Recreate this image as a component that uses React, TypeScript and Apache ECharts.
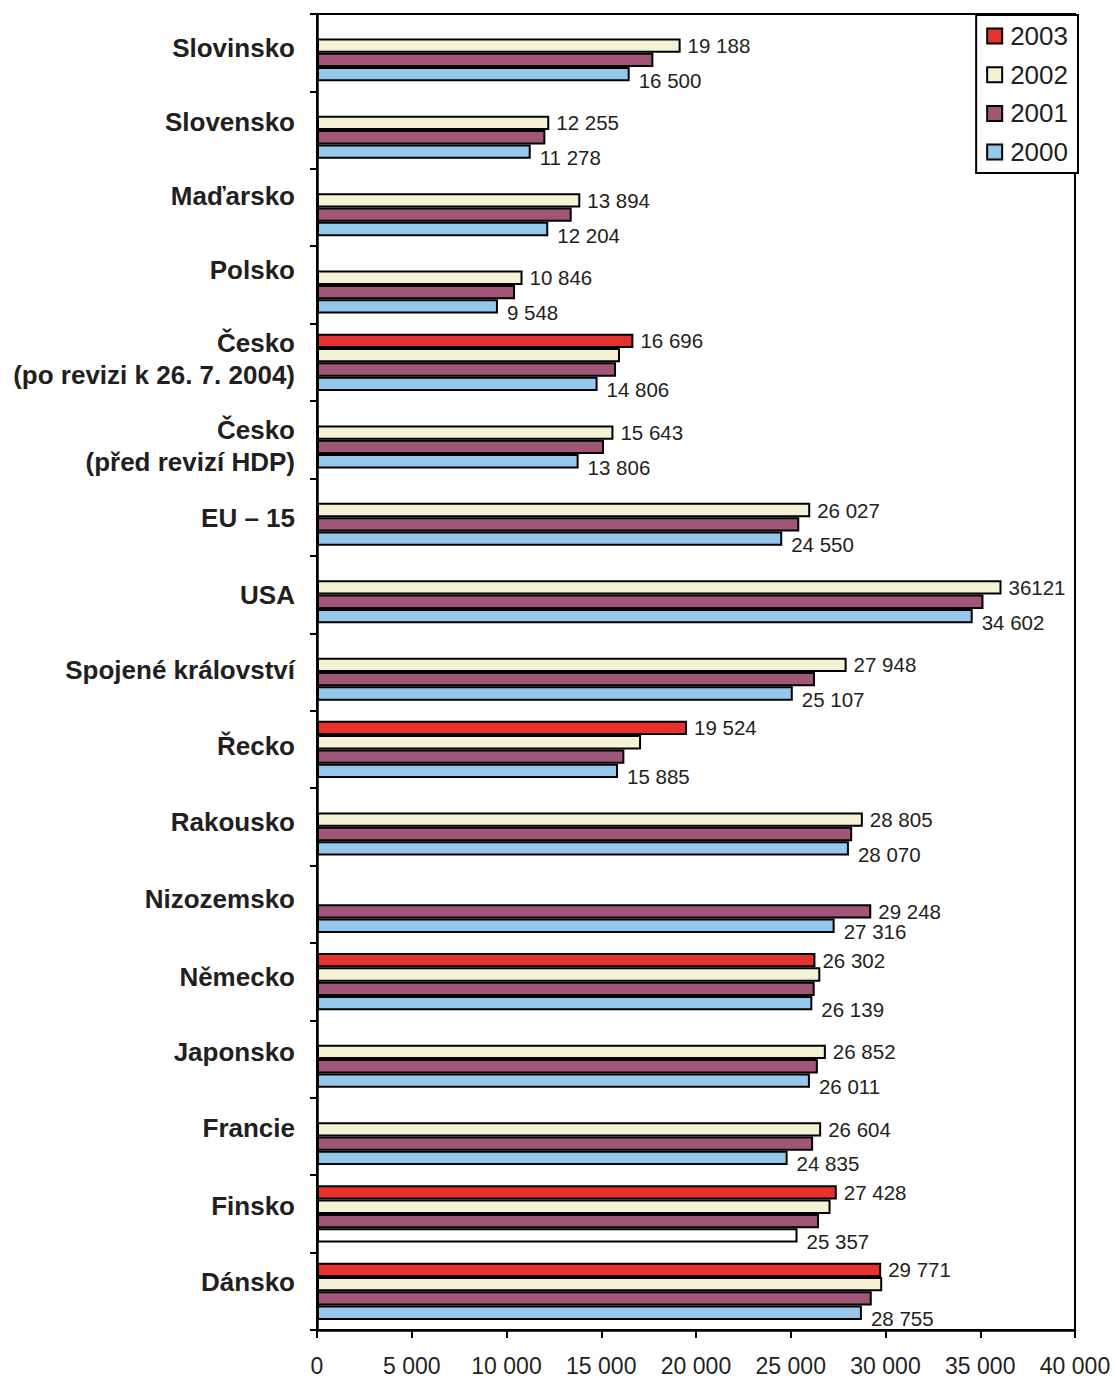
import React, { useEffect, useRef } from "react";
import * as echarts from "echarts";

// HDP na obyvatele (PPS) v letech 2000–2003
const categories = [
  "Slovinsko",
  "Slovensko",
  "Maďarsko",
  "Polsko",
  "Česko\n(po revizi k 26. 7. 2004)",
  "Česko\n(před revizí HDP)",
  "EU – 15",
  "USA",
  "Spojené království",
  "Řecko",
  "Rakousko",
  "Nizozemsko",
  "Německo",
  "Japonsko",
  "Francie",
  "Finsko",
  "Dánsko",
];

const years = ["2003", "2002", "2001", "2000"];

const v2003 = [null, null, null, null, 16696, null, null, null, null, 19524, null, null, 26302, null, null, 27428, 29771];
const v2002 = [19188, 12255, 13894, 10846, 15990, 15643, 26027, 36121, 27948, 17100, 28805, null, 26560, 26852, 26604, 27100, 29826];
const v2001 = [17750, 12050, 13440, 10450, 15780, 15145, 25450, 35170, 26280, 16220, 28240, 29248, 26263, 26430, 26180, 26490, 29274];
const v2000 = [16500, 11278, 12204, 9548, 14806, 13806, 24550, 34602, 25107, 15885, 28070, 27316, 26139, 26011, 24835, 25357, 28755];

const xTicks = [0, 5000, 10000, 15000, 20000, 25000, 30000, 35000, 40000];

const colors = ["#E8302F", "#F4F1D4", "#A15677", "#95C8EC"];

// how far each country name sits above (+) or below (−) the middle of its row, px
const nameRaise = [5, 8, 12, 15, 3, -6, -1, 0, 2, 3, 5, 5, 5, 7, 8, 8, 9];

const FONT = "'Liberation Sans', Arial, Helvetica, sans-serif";
const TEXT = "#231f20";
const NAME_SIZE = 26;
const NAME_LH = 32;

// thousands separated by a space: 26 027
const fmt = (v: number) => String(Math.round(v)).replace(/\B(?=(\d{3})+(?!\d))/g, " ");

export default function App() {
  const ref = useRef<HTMLDivElement>(null);

  useEffect(() => {
    document.body.style.margin = "0";
    if (!ref.current) return;
    const chart = echarts.init(ref.current, null, { renderer: "svg" });

    const all = [v2003, v2002, v2001, v2000];

    // the topmost bar of each group and the 2000 bar carry a value label
    const topIndex = categories.map((_, i) => {
      for (let s = 0; s < 3; s++) if (all[s][i] != null) return s;
      return 3;
    });

    const series = all.map((vals, s) => ({
      name: years[s],
      type: "bar",
      barGap: "0%",
      barCategoryGap: "26%",
      itemStyle: { color: colors[s], borderColor: "#000", borderWidth: 2 },
      label: {
        show: false,
        position: "right",
        distance: 7,
        offset: s === 3 ? [2, 6] : [0, 0],
        fontFamily: FONT,
        fontSize: 20.5,
        color: TEXT,
        formatter: (p: any) => fmt(p.value),
      },
      data: vals.map((v, i) => {
        if (v == null) return null;
        const item: any = { value: v };
        if (s === 3 || topIndex[i] === s) {
          item.label = { show: true };
          if (s === 1 && categories[i] === "USA") item.label.formatter = "{c}";
        }
        if (s === 3 && categories[i] === "Finsko") item.itemStyle = { color: "#ffffff" };
        return item;
      }),
    }));

    // rich styles for the country names; the padding nudges each line up or down
    const nameBase = {
      fontFamily: FONT,
      fontWeight: "bold",
      fontSize: NAME_SIZE,
      lineHeight: NAME_LH,
      color: TEXT,
    };
    const rich: any = {};
    nameRaise.forEach((r, i) => {
      rich["r" + i] = {
        ...nameBase,
        padding: r >= 0 ? [0, 0, 2 * r, 0] : [-2 * r, 0, 0, 0],
      };
    });
    const nameIndex: Record<string, number> = {};
    categories.forEach((c, i) => (nameIndex[c] = i));

    const nameFormatter = (value: string) => {
      const i = nameIndex[value];
      return value
        .split("\n")
        .map((line) => `{r${i}|${line}}`)
        .join("\n");
    };

    chart.setOption({
      animation: false,
      backgroundColor: "#ffffff",
      textStyle: { fontFamily: FONT, color: TEXT },
      grid: {
        left: 317,
        right: 42,
        top: 14,
        bottom: 49,
        show: true,
        borderColor: "#000",
        borderWidth: 2,
      },
      legend: {
        data: years,
        orient: "vertical",
        right: 39,
        top: 15,
        backgroundColor: "#ffffff",
        borderColor: "#000",
        borderWidth: 2,
        borderRadius: 0,
        padding: [8, 10, 8, 10],
        itemWidth: 15,
        itemHeight: 15,
        itemGap: 12.7,
        icon: "rect",
        textStyle: { fontFamily: FONT, fontSize: 26, color: TEXT, padding: [0, 0, 0, 3] },
      },
      xAxis: {
        type: "value",
        min: xTicks[0],
        max: xTicks[xTicks.length - 1],
        interval: xTicks[1] - xTicks[0],
        axisLine: { show: true, lineStyle: { color: "#000", width: 2.5 } },
        axisTick: { show: true, length: 8, lineStyle: { color: "#000", width: 2 } },
        splitLine: { show: false },
        axisLabel: {
          margin: 24,
          fontFamily: FONT,
          fontSize: 23,
          color: TEXT,
          formatter: (v: number) => fmt(v),
        },
      },
      yAxis: {
        type: "category",
        data: categories,
        inverse: true,
        axisLine: { show: true, lineStyle: { color: "#000", width: 2.5 } },
        axisTick: { show: true, length: 7, lineStyle: { color: "#000", width: 2 } },
        axisLabel: {
          interval: 0,
          margin: 22,
          fontFamily: FONT,
          fontWeight: "bold",
          fontSize: NAME_SIZE,
          lineHeight: NAME_LH,
          color: TEXT,
          formatter: nameFormatter,
          rich,
        },
      },
      series,
    });

    return () => chart.dispose();
  }, []);

  return <div ref={ref} style={{ width: 1117, height: 1379 }} />;
}
